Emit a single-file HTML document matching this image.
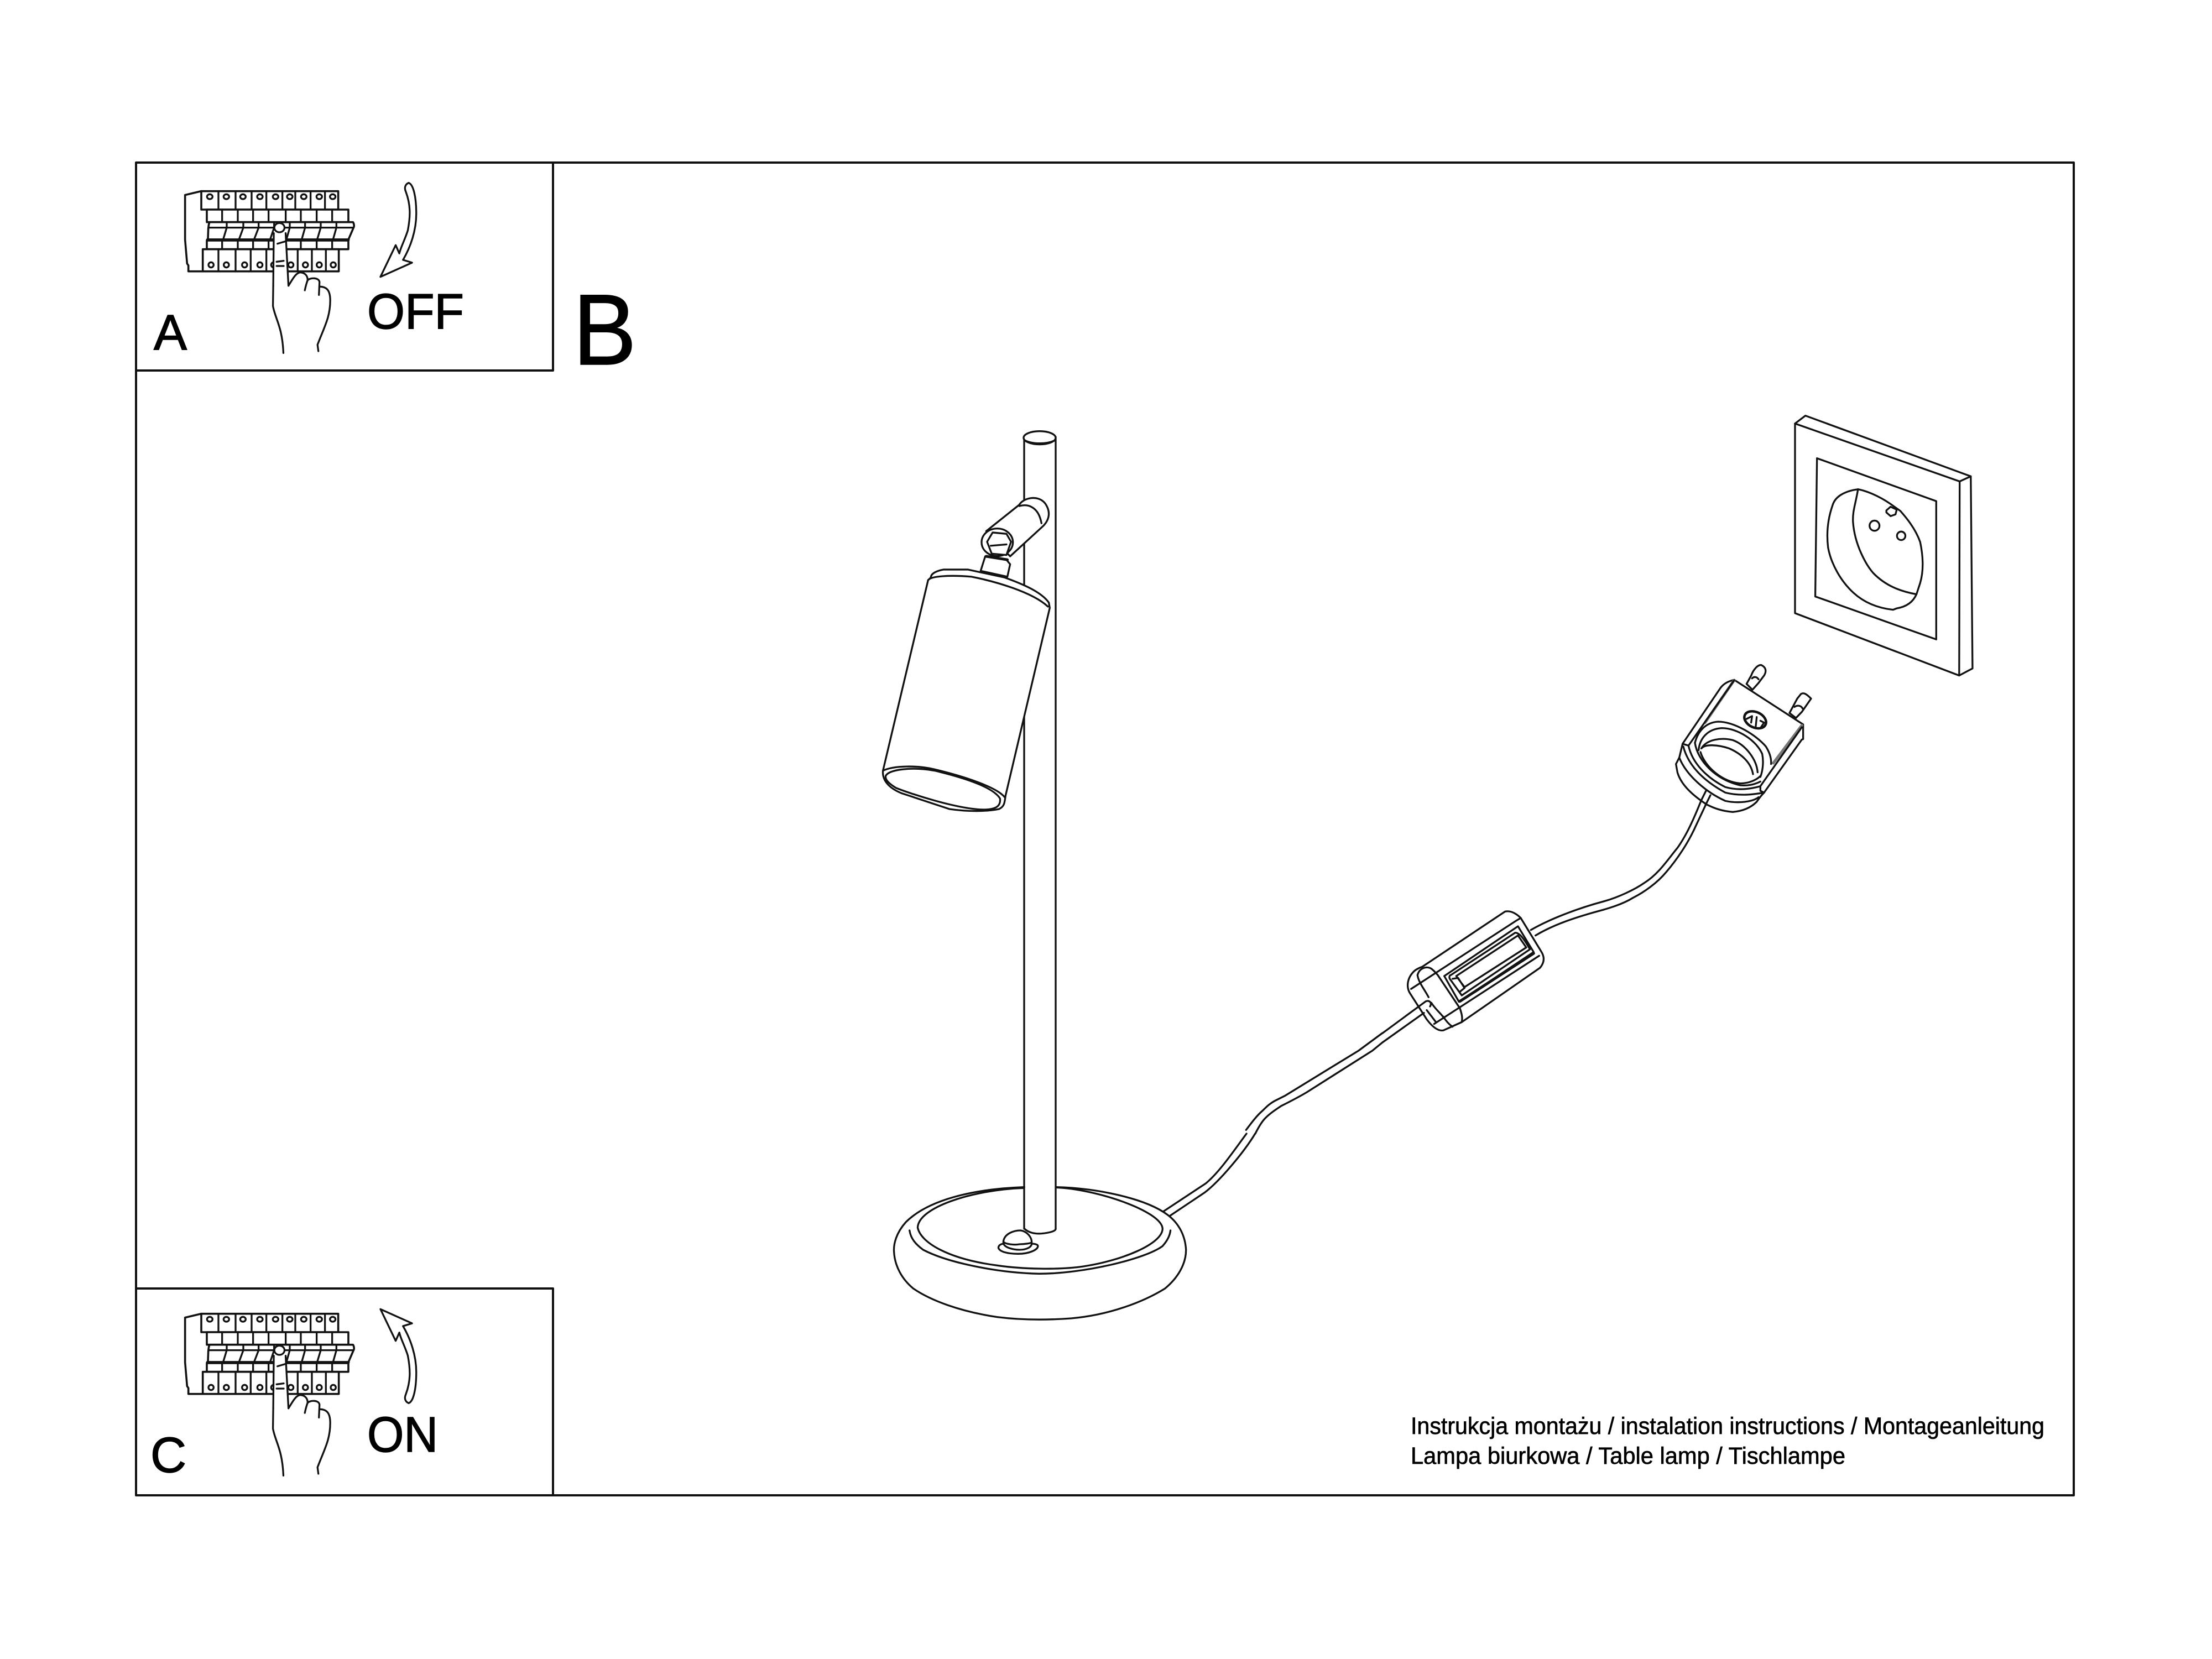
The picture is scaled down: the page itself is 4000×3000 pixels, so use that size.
<!DOCTYPE html>
<html><head><meta charset="utf-8"><style>
html,body{margin:0;padding:0;background:#fff}
svg{display:block}
svg *{vector-effect:non-scaling-stroke}
.d{fill:none;stroke:#111;stroke-width:3.3;stroke-linejoin:round;stroke-linecap:round}
.w{fill:#fff}
.t{font-family:"Liberation Sans",sans-serif;fill:#000;stroke:#000;stroke-width:1.5}
.s{font-family:"Liberation Sans",sans-serif;fill:#000;stroke:#000;stroke-width:.7}
</style></head><body>
<svg xmlns="http://www.w3.org/2000/svg" width="4000" height="3000" viewBox="0 0 4000 3000">
<rect width="4000" height="3000" fill="#fff"/>
<defs>
<g id="bk">
<path d="M132,47 L44,68 V310 L55,440 L62,450 V482 H525" style="stroke-width:3.6"/>
<rect class="w" x="132" y="47" width="743" height="100" style="stroke-width:3.6"/>
<path d="M225,47V147M318,47V147M405,47V147M485,47V147M572,47V147M642,47V147M725,47V147M803,47V147"/>
<ellipse cx="178" cy="77" rx="15" ry="13"/><ellipse cx="268" cy="77" rx="15" ry="13"/><ellipse cx="358" cy="77" rx="15" ry="13"/><ellipse cx="450" cy="77" rx="15" ry="13"/><ellipse cx="535" cy="77" rx="15" ry="13"/><ellipse cx="612" cy="77" rx="15" ry="13"/><ellipse cx="688" cy="77" rx="15" ry="13"/><ellipse cx="772" cy="77" rx="15" ry="13"/><ellipse cx="845" cy="77" rx="15" ry="13"/>
<rect class="w" x="162" y="147" width="768" height="68" style="stroke-width:3.6"/>
<path d="M245,147V215M330,147V215M413,147V215M497,147V215M590,147V215M672,147V215M758,147V215M842,147V215"/>
<rect class="w" x="162" y="315" width="768" height="47" style="stroke-width:3.6"/>
<path d="M245,315V362M330,315V362M413,315V362M497,315V362M590,315V362M672,315V362M758,315V362M842,315V362"/>
<rect class="w" x="140" y="362" width="738" height="120" style="stroke-width:3.6"/>
<path d="M225,362V482M318,362V482M400,362V482M485,362V482M570,362V482M655,362V482M732,362V482M808,362V482"/>
<ellipse cx="185" cy="447" rx="14" ry="14"/><ellipse cx="268" cy="447" rx="14" ry="14"/><ellipse cx="367" cy="447" rx="14" ry="14"/><ellipse cx="450" cy="447" rx="14" ry="14"/><ellipse cx="525" cy="447" rx="14" ry="14"/><ellipse cx="618" cy="447" rx="14" ry="14"/><ellipse cx="697" cy="447" rx="14" ry="14"/><ellipse cx="772" cy="447" rx="14" ry="14"/><ellipse cx="848" cy="447" rx="14" ry="14"/>
<path class="w" d="M178,215 H955 C962,225 962,240 958,245 L930,310 H168 L170,250 C172,235 172,222 178,215 Z" style="stroke-width:3.6"/>
<path d="M172,245 H958"/>
<path d="M270,218V245L252,305M360,218V245L338,305M443,218V245L420,305M527,218V245L507,305M612,218V245L595,305M695,218V245L678,305M780,218V245L762,305M865,218V245L848,305"/>
<path d="M165,311H930" style="stroke-width:5"/>
</g>
<g id="hd">
<path class="w" d="M500,395 C505,380 540,380 542,395 L552,680 L550,1040 L500,1040 Z" stroke="none"/>
<path d="M552,680 L542,395 M500,395 L498,680"/>
<ellipse class="w" cx="520" cy="365" rx="18" ry="25"/>
<path d="M498,680 L497,790 C505,860 530,900 534,1045"/>
<path class="w" d="M552,680 C565,650 575,615 592,608 C610,608 620,625 620,650 C615,670 612,690 610,705"/>
<path d="M620,650 C630,635 660,635 662,660 L660,730"/>
<path d="M662,685 C690,685 700,710 700,760 C700,850 680,900 655,1000 L658,1035"/>
<path d="M513,452 L540,440 M510,550 L535,545 M510,573 H535"/>
</g>
<path id="ar" d="M978,122 C965,130 962,150 968,170 C985,240 985,300 975,380 C965,430 950,470 945,505 L932,460 L878,632 L990,555 L958,540 C985,470 1005,380 1005,290 C1005,200 995,130 978,122 Z"/>
</defs>

<!-- frame -->
<g class="d" style="stroke-width:4">
<rect x="246" y="294" width="3504" height="2410"/>
<path d="M1000,294 V670 H246 M1000,2704 V2330 H246"/>
</g>

<!-- panels -->
<g class="d" transform="translate(320,330) scale(.3333,.3333)"><use href="#bk"/></g>
<g class="d" transform="translate(320,2360) scale(.3333,.3333)"><use href="#bk"/></g>
<g class="d" transform="translate(240,290) scale(.5102,.3333)">
<use href="#hd"/><use href="#ar"/>
</g>
<g class="d" transform="translate(240,2320) scale(.5102,.3333)">
<use href="#hd"/>
<use href="#ar" transform="translate(0,774) scale(1,-1)"/>
</g>
<text class="t" x="278" y="632" font-size="90">A</text>
<text class="t" x="664" y="594" font-size="90" textLength="175" lengthAdjust="spacingAndGlyphs">OFF</text>
<text class="t" x="272" y="2662" font-size="90">C</text>
<text class="t" x="664" y="2625" font-size="90" textLength="128" lengthAdjust="spacingAndGlyphs">ON</text>
<text class="t" x="1036" y="659" font-size="182" textLength="115" lengthAdjust="spacingAndGlyphs">B</text>
<text class="s" x="2551" y="2593" font-size="43" textLength="1146" lengthAdjust="spacingAndGlyphs">Instrukcja montażu / instalation instructions / Montageanleitung</text>
<text class="s" x="2551" y="2647" font-size="43" textLength="786" lengthAdjust="spacingAndGlyphs">Lampa biurkowa / Table lamp / Tischlampe</text>

<!-- base -->
<g class="d" transform="translate(1580,2050) scale(.4464,.3333)">
<path d="M1170,425 L1345,270 C1400,210 1460,90 1510,0 M1195,450 L1340,320 C1400,260 1500,100 1545,0"/>
<path class="w" d="M610,290 C400,300 220,360 130,480 C90,540 80,600 82,640 C85,720 115,790 160,840 C230,905 350,965 500,995 C600,1012 700,1012 800,1002 C950,985 1090,915 1180,840 C1230,785 1265,710 1265,630 C1262,560 1240,490 1190,440 C1100,350 900,295 738,290"/>
<path d="M605,295 C400,305 180,400 178,510 C190,590 300,680 500,715 C600,735 750,740 850,720 C1000,690 1170,600 1170,515 C1165,420 900,300 738,292"/>
<path d="M145,525 C150,570 170,600 200,630 C300,700 500,755 670,760 C850,760 1100,680 1170,610 C1190,580 1200,550 1202,525"/>
<path d="M610,515 C625,535 650,545 680,542 C710,538 735,530 737,518"/>
<path d="M525,585 C530,540 570,525 595,525 C620,530 640,560 640,590 C635,595 610,600 590,600 C570,605 530,600 525,585 M525,590 C525,620 570,630 590,630 C620,630 640,615 640,595 M525,597 C510,600 505,610 505,620 C510,640 540,652 585,652 C630,652 665,630 665,610 C665,600 650,597 640,597"/>
</g>

<!-- pole and head -->
<path class="d" d="M1852,790 V2222 M1909,790 V2222"/>
<g class="d" transform="translate(1550,750) scale(.3333,.4785)">
<ellipse class="w" cx="990" cy="87" rx="87" ry="25"/>
<path d="M908,96 C950,112 1030,112 1075,96"/>
<path class="w" d="M700,440 L880,340 C900,315 980,300 1020,335 C1050,365 1045,395 1010,420 L830,535 Z"/>
<path d="M880,345 C930,335 985,350 1000,410"/>
<ellipse class="w" cx="760" cy="482" rx="85" ry="52"/>
<path class="w" d="M735,445 L810,450 L835,480 L810,530 L730,525 L705,480 Z"/>
<path d="M725,495 L810,490"/>
<path class="w" d="M695,535 L670,590 L815,612 L830,565 L810,548 Z"/>
<path d="M700,535 L815,548" style="stroke-width:5"/>
<path class="w" d="M385,625 L140,1345 C135,1380 170,1410 240,1430 L500,1490 C600,1500 700,1500 770,1490 C800,1480 800,1465 805,1440 L1045,730 L1040,710 C1000,670 900,640 800,615 L600,585 L470,585 C430,590 400,600 400,615 Z"/>
<path d="M385,625 C400,610 500,605 620,612 C750,630 950,670 1035,725"/>
<path d="M155,1365 C170,1340 300,1330 420,1345 C600,1375 740,1410 775,1450 C780,1475 760,1490 700,1492 C560,1495 280,1430 210,1410 C175,1395 150,1380 155,1365 Z"/>
<path d="M140,1345 C200,1325 330,1325 420,1340 C600,1370 760,1410 800,1445"/>
</g>

<!-- cord -->
<g class="d" transform="translate(2150,1900) scale(.3333,.3333)">
<path d="M310,430 C340,390 370,350 400,325 C420,305 440,285 470,270 C490,260 510,250 520,245 L920,0 L1050,-96"/>
<path d="M360,450 C375,420 395,385 415,365 C440,340 470,320 500,300 C540,280 590,255 640,225 L995,0 L1050,-45"/>
</g>
<g class="d" transform="translate(2800,1400) scale(.3333,.3333)">
<path d="M300,690 C380,668 470,625 520,590 C600,540 650,460 700,400 C750,330 790,240 830,140 L855,90"/>
<path d="M300,735 C370,715 420,695 460,670 C520,640 590,590 640,530 C700,460 760,370 800,280 L880,110"/>
</g>

<!-- switch -->
<g class="d" transform="translate(2500,1600) scale(.3333,.3333)">
<path class="w" d="M665,145 C690,140 720,150 750,180 L860,360 C880,390 880,420 855,450 L430,745 L330,790 C300,795 270,770 240,730 L150,590 C130,560 130,510 170,470 C180,460 200,450 215,445 Z"/>
<path d="M155,565 L725,195 M280,755 L850,385 M725,195 L750,180"/>
<path d="M335,495 L735,225 L820,365 L415,635 Z"/>
<path d="M370,490 L720,260 C740,260 760,280 800,350 L430,600 L365,510 C360,500 365,490 370,490 Z"/>
<path d="M400,495 L735,275 L780,340 L445,555 Z M380,510 L410,505 L445,560 L420,580"/>
<path d="M420,632 L820,372" style="stroke-width:5"/>
<path d="M190,490 C200,450 240,440 265,455 C285,470 290,480 300,490 L420,670 C430,700 435,720 430,745"/>
<path d="M190,490 C195,530 230,570 250,610 M240,680 L290,745 M330,715 C345,740 365,760 380,770 M265,640 C290,680 320,700 335,725"/>
<path d="M0,805 L235,632 C255,625 270,640 258,660 M0,855 L225,695"/>
<path d="M805,245 C900,190 1050,130 1200,90 M830,275 C930,215 1050,175 1200,135"/>
</g>

<!-- socket -->
<g class="d" transform="translate(2950,720) scale(.4464,.5102)">
<path class="w" d="M663,90 L1330,295 L1328,983 L663,762 Z"/>
<path d="M663,90 L705,62 L1375,277 L1330,295 M1375,277 L1382,958 L1328,983"/>
<path d="M752,213 L1235,365 L1235,855 L745,703 Z"/>
<path d="M918,323 C860,330 825,350 815,380 C795,430 790,480 797,530 C810,590 850,650 900,690 C950,730 1010,745 1060,750 L1075,745 C1110,740 1140,725 1155,695 L1170,655 C1185,610 1182,560 1170,510 C1150,460 1110,420 1090,400 L1050,375 C1000,345 950,328 918,323 Z"/>
<path d="M918,323 C910,370 895,400 898,440 C905,520 950,590 980,620 C1030,665 1090,685 1155,695"/>
<ellipse cx="985" cy="452" rx="20" ry="18"/>
<ellipse cx="1093" cy="488" rx="17" ry="15"/>
<path d="M1033,398 L1050,385 L1075,395 L1070,412 L1050,418 L1033,405 Z"/>
</g>

<!-- plug -->
<g class="d" transform="translate(3020,1200) scale(.3333,.3333)">
<path class="w" d="M415,110 L440,65 C455,25 480,5 495,8 C520,20 525,40 510,65 L480,105 L447,142 Z"/>
<path d="M445,80 C455,70 470,70 480,85"/>
<path class="w" d="M648,268 L690,190 L710,165 C725,155 740,165 765,190 L715,262 L683,295 Z"/>
<path d="M675,235 C690,225 710,225 720,245"/>
<path class="w" d="M348,88 L722,330 V410 L715,412 L510,700 C500,710 490,720 470,750 C440,780 400,800 340,805 C280,800 240,785 200,765 C130,720 60,660 40,590 L32,545 L50,510 L68,435 L275,130 C295,105 320,95 348,88 Z"/>
<path d="M348,90 L190,320 M715,335 L560,540" style="stroke:#777;stroke-width:5"/>
<path d="M68,435 L100,445 L348,90 M715,345 L490,665 V690 L510,700"/>
<path d="M135,430 C150,370 190,320 260,315 C350,315 470,390 520,450 C545,490 550,520 548,545"/>
<path d="M155,470 C160,410 200,355 280,350 C370,350 470,420 500,490 C510,540 500,590 490,615"/>
<path d="M170,460 C200,410 280,400 340,415 C410,440 470,520 475,590"/>
<path d="M170,460 C190,435 260,440 320,460 C390,490 440,540 450,600"/>
<path d="M165,480 C190,560 280,640 380,650 C430,650 470,630 490,610"/>
<path d="M135,430 C150,530 250,630 380,660 C430,665 470,650 490,640"/>
<path d="M100,445 C120,540 200,620 300,670 C370,690 440,680 490,665"/>
<path d="M72,450 C100,560 190,640 300,700 C380,720 450,710 510,700"/>
<path d="M50,510 C90,610 200,700 300,745 C370,760 450,750 480,725"/>
<ellipse cx="462" cy="305" rx="62" ry="42" transform="rotate(25 462 305)" style="stroke-width:4.5"/>
<path d="M415,300 L445,285 L440,320 M470,290 L465,340 M490,310 L510,320 L490,350"/>
</g>
<path class="w" d="M3076,1440 L3085,1430 L3093,1438 L3084,1448 Z" fill="#fff" stroke="none"/>
<path class="d" d="M3085,1430 L3076,1448 M3093,1438 L3084,1456"/>
</svg>
</body></html>
